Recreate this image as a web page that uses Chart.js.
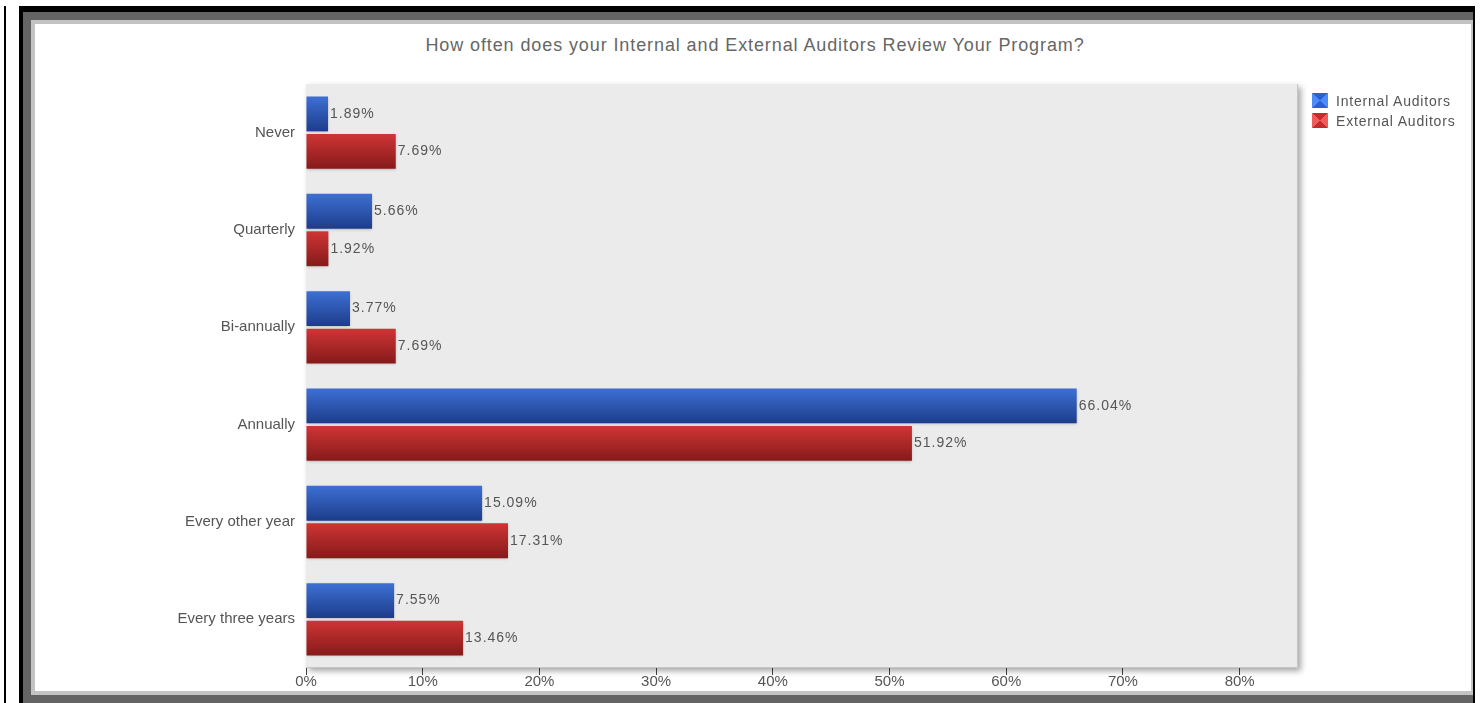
<!DOCTYPE html>
<html>
<head>
<meta charset="utf-8">
<script src="https://cdn.jsdelivr.net/npm/chart.js@4.4.1/dist/chart.umd.min.js"></script>
<style>
  html, body { margin: 0; padding: 0; background: #fff; }
  body { width: 1481px; height: 703px; position: relative; overflow: hidden; font-family: "Liberation Sans", Arial, sans-serif; }
  .frame-line { position: absolute; background: #000; }
  .outer { position: absolute; left: 19px; top: 6px; width: 1456px; height: 697px; background: #000; }
  .dark { position: absolute; left: 23px; top: 12px; width: 1450px; height: 691px; background: #646464; }
  .light { position: absolute; left: 31px; top: 20px; width: 1442px; height: 675px; background: #c3c3c3; }
  .inner { position: absolute; left: 35px; top: 24px; width: 1436px; height: 667px; background: #fff; }
  #title { position: absolute; left: 35px; top: 35px; width: 1440px; text-align: center; font-size: 18px; letter-spacing: 0.9px; color: #666; }
  #wrap { position: absolute; left: 35px; top: 24px; width: 1436px; height: 667px; }
  .legend { position: absolute; left: 1312px; font-size: 14px; letter-spacing: 0.8px; color: #555; }
  .legend span.box { display: inline-block; width: 16px; height: 15px; vertical-align: -2px; margin-right: 8px; }
</style>
</head>
<body>
<div class="frame-line" style="left:4px;top:6px;width:2px;height:697px"></div>
<div class="outer"></div>
<div class="dark"></div>
<div class="light"></div>
<div class="inner"></div>
<div id="title">How often does your Internal and External Auditors Review Your Program?</div>
<div id="wrap"><canvas id="chart"></canvas></div>
<div class="legend" style="top:93px"><span class="box" style="background:conic-gradient(#2a5fd6 0 45deg,#4d8cf7 45deg 135deg,#2a5fd6 135deg 225deg,#4d8cf7 225deg 315deg,#2a5fd6 315deg)"></span>Internal Auditors</div>
<div class="legend" style="top:113px"><span class="box" style="background:conic-gradient(#c42c2c 0 45deg,#ef5c5c 45deg 135deg,#c42c2c 135deg 225deg,#ef5c5c 225deg 315deg,#c42c2c 315deg)"></span>External Auditors</div>
<script>
const categories = ["Never", "Quarterly", "Bi-annually", "Annually", "Every other year", "Every three years"];
const internalAuditors = [1.89, 5.66, 3.77, 66.04, 15.09, 7.55];
const externalAuditors = [7.69, 1.92, 7.69, 51.92, 17.31, 13.46];
const seriesNames = ["Internal Auditors", "External Auditors"];

const COLORS = {
  blue: ["#3d70d4", "#1d3c8a"],
  red: ["#cf3535", "#861a1a"],
  plot: "#ebebeb",
  text: "#555555",
};
const FONT = '"Liberation Sans", Arial, sans-serif';

const plotBackground = {
  id: "plotBackground",
  beforeDatasetsDraw(chart) {
    const { ctx, chartArea: a } = chart;
    ctx.save();
    ctx.shadowColor = "rgba(0,0,0,0.35)";
    ctx.shadowBlur = 6;
    ctx.shadowOffsetX = 3;
    ctx.shadowOffsetY = 3;
    ctx.fillStyle = COLORS.plot;
    ctx.fillRect(a.left, a.top, a.right - a.left, a.bottom - a.top);
    ctx.restore();
    ctx.save();
    ctx.strokeStyle = "#c6c6c6";
    ctx.lineWidth = 1;
    ctx.beginPath();
    ctx.moveTo(a.right - 0.5, a.top);
    ctx.lineTo(a.right - 0.5, a.bottom - 0.5);
    ctx.lineTo(a.left, a.bottom - 0.5);
    ctx.stroke();
    ctx.restore();

    // vertical gradient on each bar (options objects are shared, so copy them)
    chart.data.datasets.forEach((ds, i) => {
      const stops = ds.gradientStops;
      chart.getDatasetMeta(i).data.forEach((bar) => {
        const h = bar.height;
        const g = ctx.createLinearGradient(0, bar.y - h / 2, 0, bar.y + h / 2);
        g.addColorStop(0, stops[0]);
        g.addColorStop(1, stops[1]);
        bar.options = Object.assign({}, bar.options, { backgroundColor: g });
      });
    });

    // soft shadow under bars
    ctx.save();
    ctx.shadowColor = "rgba(0,0,0,0.25)";
    ctx.shadowBlur = 3;
    ctx.shadowOffsetY = 1;
  },
  afterDatasetsDraw(chart) {
    chart.ctx.restore();
  },
};

const valueLabels = {
  id: "valueLabels",
  afterDatasetsDraw(chart) {
    const { ctx } = chart;
    ctx.save();
    ctx.font = "14px " + FONT;
    ctx.letterSpacing = "1px";
    ctx.fillStyle = COLORS.text;
    ctx.textAlign = "left";
    ctx.textBaseline = "middle";
    chart.data.datasets.forEach((ds, i) => {
      chart.getDatasetMeta(i).data.forEach((bar, j) => {
        ctx.fillText(ds.data[j].toFixed(2) + "%", bar.x + 2, bar.y);
      });
    });
    ctx.restore();
  },
};

new Chart(document.getElementById("chart"), {
  type: "bar",
  data: {
    labels: categories,
    datasets: [
      {
        label: seriesNames[0],
        data: internalAuditors,
        backgroundColor: COLORS.blue[0],
        gradientStops: COLORS.blue,
        categoryPercentage: 0.77,
        barPercentage: 0.93,
      },
      {
        label: seriesNames[1],
        data: externalAuditors,
        backgroundColor: COLORS.red[0],
        gradientStops: COLORS.red,
        categoryPercentage: 0.77,
        barPercentage: 0.93,
      },
    ],
  },
  options: {
    indexAxis: "y",
    responsive: true,
    maintainAspectRatio: false,
    animation: false,
    layout: { padding: { top: 60, right: 173, bottom: 0, left: 0 } },
    plugins: {
      legend: { display: false },
      tooltip: { enabled: false },
    },
    scales: {
      x: {
        min: 0,
        max: 85,
        afterFit: (scale) => { scale.height = 23; },
        afterBuildTicks: (scale) => {
          scale.ticks = scale.ticks.filter((t) => t.value <= 80);
        },
        ticks: {
          stepSize: 10,
          color: COLORS.text,
          font: { size: 15, family: FONT },
          padding: -2,
          callback: (value) => value + "%",
        },
        grid: {
          drawOnChartArea: false,
          drawTicks: true,
          tickLength: 7,
          color: "#444",
        },
        border: { display: false },
      },
      y: {
        afterFit: (scale) => { scale.width = 271; },
        ticks: {
          color: COLORS.text,
          font: { size: 15, family: FONT },
          padding: 11,
        },
        grid: { display: false, drawTicks: false },
        border: { display: false },
      },
    },
  },
  plugins: [plotBackground, valueLabels],
});
</script>
</body>
</html>
